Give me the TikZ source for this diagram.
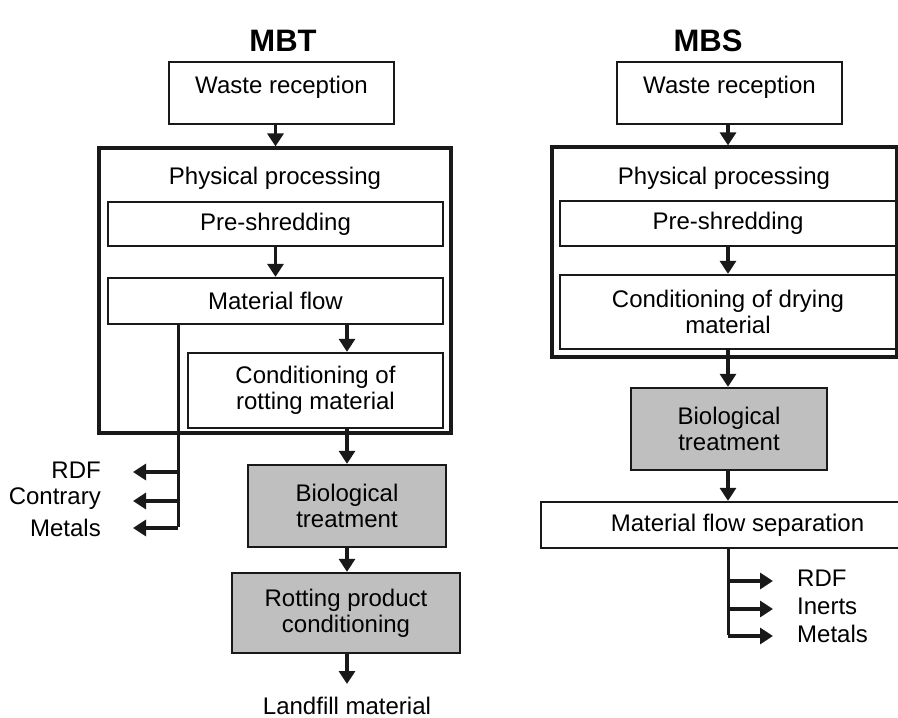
\documentclass[tikz,border=0pt]{standalone}
\usepackage{fontspec}
\setmainfont{Liberation Sans}
\usetikzlibrary{arrows.meta}
\tikzset{
  box/.style={draw=black!90, line width=2.3pt, rectangle, inner sep=0pt, align=center, font=\fontsize{24}{26}\selectfont},
  outerbox/.style={draw=black!90, line width=3.2pt, rectangle, inner sep=0pt},
  grey/.style={box, fill=black!25},
  txt/.style={inner sep=0pt, align=center, font=\fontsize{24}{26}\selectfont},
  ttl/.style={inner sep=0pt, font=\fontsize{31}{34}\selectfont\bfseries},
  arr/.style={draw=black!90, line width=3.2pt, -{Triangle[width=16pt,length=13pt]}},
  ln/.style={draw=black!90, line width=3pt}
}
\begin{document}
\begin{tikzpicture}[x=1pt,y=-1pt]
\useasboundingbox (0,0) rectangle (898,718);
% titles
\node[ttl] (t1) at (283,41) {MBT};
\node[ttl] (t2) at (708,41) {MBS};

% ---------- MBT ----------
\node[box, minimum width=225, minimum height=62] (wr1) at (281.5,93) {\raisebox{16pt}{Waste reception}};
\node[outerbox, minimum width=352, minimum height=285] (pp1) at (275,290.5) {};
\node[txt] (pt1) at (275,178) {Physical processing};
\node[box, minimum width=335, minimum height=44] (ps1) at (275.5,224) {Pre-shredding};
\node[box, minimum width=335, minimum height=46] (mf1) at (275.5,301) {Material flow};
\node[box, minimum width=255, minimum height=75] (crm1) at (315.5,390.5) {Conditioning of\\rotting material};
\node[grey, minimum width=198, minimum height=82] (bt1) at (347,506) {Biological\\treatment};
\node[grey, minimum width=228, minimum height=80] (rp1) at (346,613) {Rotting product\\conditioning};
\node[txt, anchor=north] (lf1) at (347,697) {Landfill material};

\draw[arr] (wr1.south -| ps1.north) -- (pp1.north -| ps1.north);
\draw[arr] (ps1.south) -- (mf1.north);
\draw[arr] (mf1.south -| bt1.north) -- (crm1.north -| bt1.north);
\draw[arr] (crm1.south -| bt1.north) -- (bt1.north);
\draw[arr] (bt1.south) -- (rp1.north -| bt1.south);
\draw[arr, shorten >=13pt] (rp1.south -| bt1.south) -- (lf1.north -| bt1.south);

\node[txt, anchor=east] (o11) at (101,470) {RDF};
\node[txt, anchor=east] (o12) at (101,499) {Contrary};
\node[txt, anchor=east] (o13) at (101,528) {Metals};
\coordinate (b1) at (178,324);
\draw[ln] (b1) -- ([yshift=1.5pt]b1 |- o13);
\draw[arr, shorten >=32pt] ([yshift=-2pt]b1 |- o11) -- ([yshift=-2pt]o11.east);
\draw[arr, shorten >=32pt] ([yshift=-2pt]b1 |- o12) -- ([yshift=-2pt]o12.east);
\draw[arr, shorten >=32pt] ([yshift=0pt]b1 |- o13) -- ([yshift=0pt]o13.east);

% ---------- MBS ----------
\node[box, minimum width=225, minimum height=62] (wr2) at (729.5,93) {\raisebox{16pt}{Waste reception}};
\node[outerbox, minimum width=345, minimum height=210] (pp2) at (724.5,252) {};
\node[txt] (pt2) at (724,178) {Physical processing};
\node[box, minimum width=336, minimum height=45] (ps2) at (728,223.5) {Pre-shredding};
\node[box, minimum width=336, minimum height=74] (cd2) at (728,312) {Conditioning of drying\\material};
\node[grey, minimum width=196, minimum height=82] (bt2) at (729,429) {Biological\\treatment};
\node[box, minimum width=393, minimum height=46] (ms2) at (737.5,525) {Material flow separation};

\draw[arr] (wr2.south -| ps2.north) -- (pp2.north -| ps2.north);
\draw[arr] (ps2.south) -- (cd2.north);
\draw[arr] (cd2.south) -- (bt2.north -| cd2.south);
\draw[arr] (bt2.south -| cd2.south) -- (ms2.north -| cd2.south);

\node[txt, anchor=west] (o21) at (797,578) {RDF};
\node[txt, anchor=west] (o22) at (797,606) {Inerts};
\node[txt, anchor=west] (o23) at (797,634) {Metals};
\coordinate (b2) at (728,548);
\draw[ln] (b2) -- ([yshift=-0.5pt]b2 |- o23);
\draw[arr, shorten >=24pt] ([yshift=-3pt]b2 |- o21) -- ([yshift=-3pt]o21.west);
\draw[arr, shorten >=24pt] ([yshift=-3pt]b2 |- o22) -- ([yshift=-3pt]o22.west);
\draw[arr, shorten >=24pt] ([yshift=-2pt]b2 |- o23) -- ([yshift=-2pt]o23.west);
\end{tikzpicture}
\end{document}
